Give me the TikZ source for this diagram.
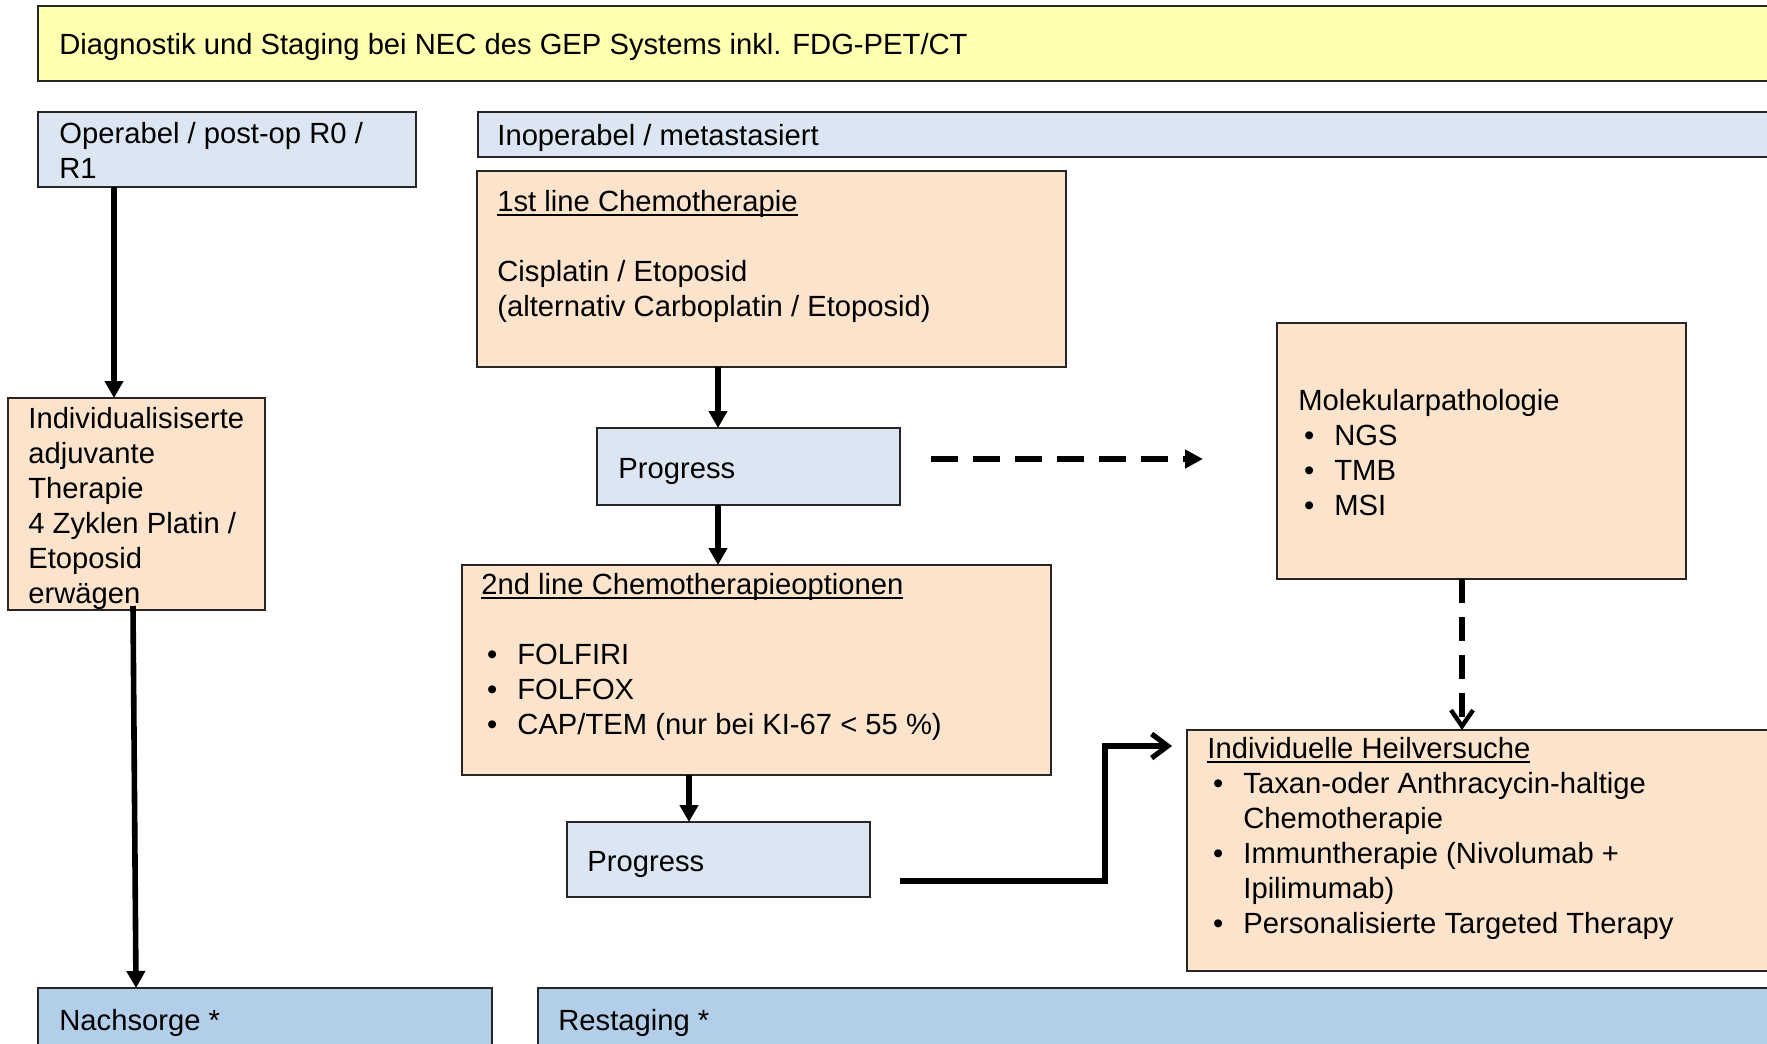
\documentclass[tikz,border=0pt]{standalone}
\usepackage{fontspec}
\setmainfont{Liberation Sans}
\usetikzlibrary{arrows.meta}
\definecolor{ylw}{RGB}{255,255,176}
\definecolor{lblue}{RGB}{220,230,242}
\definecolor{peach}{RGB}{252,227,204}
\definecolor{mblue}{RGB}{178,206,232}
\newcommand{\myul}[1]{{\setbox0\hbox{#1}\rlap{\rule[-2.3pt]{\wd0}{0.8pt}}\box0}}
\newcommand{\bul}{\hspace*{2.8pt}\makebox[15.2pt][l]{•}}
\newcommand{\cont}{\hspace*{18pt}}
\begin{document}
\begin{tikzpicture}[x=0.5pt,y=-0.5pt,
  box/.style={draw=black!85, line width=0.8pt, anchor=north west, inner sep=0pt, outer sep=0pt},
  txt/.style={anchor=north west, inner sep=0pt, align=left, font=\fontsize{14.6pt}{17.5pt}\selectfont},
  arr/.style={line width=2.8pt, -{Triangle[length=8.5pt,width=9pt]}},
  darr/.style={line width=3.3pt, dash pattern=on 13.5pt off 7.5pt, -{Triangle[length=9pt,width=9pt]}},
  varr/.style={line width=2.8pt, dash pattern=on 12pt off 7pt, -{Straight Barb[length=8pt,width=11pt,line width=2.2pt]}},
  barr/.style={line width=2.8pt, -{Straight Barb[length=8pt,width=12pt,line width=2.6pt]}}]
\useasboundingbox (0,0) rectangle (1767,1044);
\clip (0,0) rectangle (1767,1044);
% boxes
\node[box, fill=ylw, minimum width=881pt, minimum height=37.5pt] (top) at (38,6) {};
\node[box, fill=lblue, minimum width=189pt, minimum height=37.5pt] (oper) at (38,112) {};
\node[box, fill=lblue, minimum width=661pt, minimum height=22.5pt] (inop) at (478,112) {};
\node[box, fill=peach, minimum width=294.5pt, minimum height=98pt] (first) at (477,171) {};
\node[box, fill=lblue, minimum width=151.5pt, minimum height=38.5pt] (prog1) at (597,428) {};
\node[box, fill=peach, minimum width=204.5pt, minimum height=128pt] (molek) at (1277,323) {};
\node[box, fill=peach, minimum width=128.5pt, minimum height=106pt] (indiv) at (8,398) {};
\node[box, fill=peach, minimum width=294.5pt, minimum height=105pt] (second) at (462,565) {};
\node[box, fill=lblue, minimum width=151.5pt, minimum height=37.5pt] (prog2) at (567,822) {};
\node[box, fill=peach, minimum width=306.5pt, minimum height=120.5pt] (heil) at (1187,730) {};
\node[box, fill=mblue, minimum width=227pt, minimum height=56pt] (nach) at (38,988) {};
\node[box, fill=mblue, minimum width=631pt, minimum height=56pt] (rest) at (538,988) {};
% texts (anchor = first baseline - 24.5px)
\node[txt] (ttop) at (59,29.5) {\strut Diagnostik und Staging bei NEC des GEP Systems inkl. FDG-PET/CT};
\node[txt] (toper) at (59,118.5) {\strut Operabel / post-op R0 /\\R1};
\node[txt] (tinop) at (497,120.5) {\strut Inoperabel / metastasiert};
\node[txt] (tfirst) at (497,186.5) {\strut\myul{1st line Chemotherapie}\\[17.5pt]Cisplatin / Etoposid\\(alternativ Carboplatin / Etoposid)};
\node[txt] (tprog1) at (618,453.5) {\strut Progress};
\node[txt] (tmolek) at (1298,385.5) {\strut Molekularpathologie\\\bul NGS\\\bul TMB\\\bul MSI};
\node[txt] (tindiv) at (28,403.5) {\strut Individualisiserte\\adjuvante\\Therapie\\4 Zyklen Platin /\\Etoposid\\erwägen};
\node[txt] (tsecond) at (481,569.5) {\strut\myul{2nd line Chemotherapieoptionen}\\[17.5pt]\bul FOLFIRI\\\bul FOLFOX\\\bul CAP/TEM (nur bei KI-67 < 55 \%)};
\node[txt] (tprog2) at (587,846.5) {\strut Progress};
\node[txt] (theil) at (1207,733.5) {\strut\myul{Individuelle Heilversuche}\\\bul Taxan-oder Anthracycin-haltige\\\cont Chemotherapie\\\bul Immuntherapie (Nivolumab +\\\cont Ipilimumab)\\\bul Personalisierte Targeted Therapy};
\node[txt] (tnach) at (59,1005.5) {\strut Nachsorge *};
\node[txt] (trest) at (558,1005.5) {\strut Restaging *};
% connectors
\draw[arr] ([xshift=38pt]oper.south west) -- ([xshift=53pt]indiv.north west);
\draw[arr] ([xshift=62.5pt,yshift=2pt]indiv.south west) -- ([xshift=49pt]nach.north west);
\draw[arr] ([xshift=120.5pt]first.south west) -- ([xshift=60.5pt]prog1.north west);
\draw[arr] ([xshift=60.5pt]prog1.south west) -- ([xshift=128pt]second.north west);
\draw[arr] ([xshift=113.5pt]second.south west) -- ([xshift=61pt]prog2.north west);
\draw[darr] ([xshift=15.5pt,yshift=3.75pt]prog1.east) -- ([xshift=-37pt,yshift=-4pt]molek.west);
\draw[varr] ([xshift=92.5pt]molek.south west) -- ([xshift=137.5pt]heil.north west);
\draw[barr] ([xshift=15pt,yshift=-10.75pt]prog2.east) -| ([xshift=-41pt,yshift=-8pt]heil.north west) -- ([xshift=-7.5pt,yshift=-8pt]heil.north west);
\end{tikzpicture}
\end{document}
